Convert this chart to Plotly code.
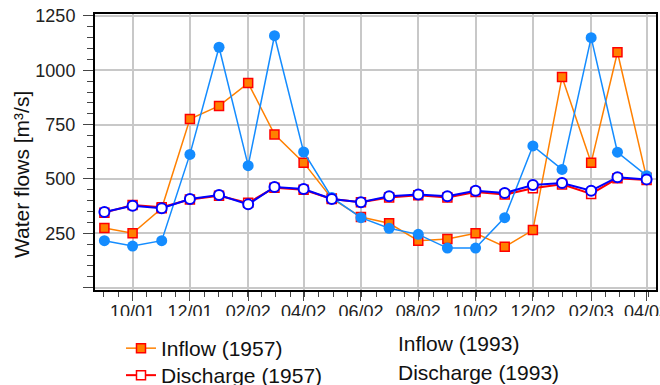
import plotly.graph_objects as go

# ---- data ----
months = ["2001-09-01", "2001-10-01", "2001-11-01", "2001-12-01", "2002-01-01",
          "2002-02-01", "2002-03-01", "2002-04-01", "2002-05-01", "2002-06-01",
          "2002-07-01", "2002-08-01", "2002-09-01", "2002-10-01", "2002-11-01",
          "2002-12-01", "2003-01-01", "2003-02-01", "2003-03-01", "2003-04-01"]
inflow_1957 = [274, 250, 365, 776, 836, 941, 705, 575, 410, 325,
               296, 216, 224, 250, 188, 265, 969, 575, 1083, 505]
discharge_1957 = [345, 380, 370, 405, 423, 390, 460, 450, 408, 393,
                  415, 425, 415, 440, 428, 457, 475, 431, 503, 495]
inflow_1993 = [216, 191, 216, 613, 1106, 561, 1159, 624, 415, 322,
               273, 245, 182, 182, 322, 652, 544, 1150, 623, 515]
discharge_1993 = [348, 377, 365, 408, 426, 383, 463, 454, 408, 393,
                  420, 428, 420, 446, 435, 472, 481, 446, 508, 498]
y_ticks = [0, 250, 500, 750, 1000, 1250]
y_tick_text = ["", "250", "500", "750", "1000", "1250"]
y_title = "Water flows [m³/s]"

FONT = "Liberation Sans, Arial, sans-serif"
ORANGE = "#FF8000"
RED = "#FF0000"
LBLUE = "#148CFF"
BLUE = "#0000FF"

fig = go.Figure()
fig.add_trace(go.Scatter(
    x=months, y=inflow_1957, name="Inflow (1957)", mode="lines+markers",
    line=dict(color=ORANGE, width=1.5),
    marker=dict(symbol="square", size=9, color=ORANGE, line=dict(color=RED, width=1.5)),
    legend="legend"))
fig.add_trace(go.Scatter(
    x=months, y=discharge_1957, name="Discharge (1957)", mode="lines+markers",
    line=dict(color=RED, width=2),
    marker=dict(symbol="square", size=9, color="white", line=dict(color=RED, width=1.5)),
    legend="legend3"))
fig.add_trace(go.Scatter(
    x=months, y=inflow_1993, name="Inflow (1993)", mode="lines+markers",
    line=dict(color=LBLUE, width=1.5),
    marker=dict(symbol="circle", size=11, color=LBLUE, line=dict(color=LBLUE, width=0)),
    showlegend=False))
fig.add_trace(go.Scatter(
    x=months, y=discharge_1993, name="Discharge (1993)", mode="lines+markers",
    line=dict(color=BLUE, width=2),
    marker=dict(symbol="circle", size=10, color="white", line=dict(color=BLUE, width=2)),
    showlegend=False))
# legend entries for 1993 series (reference shows no symbol next to them)
for nm, lg in [("Inflow (1993)", "legend2"), ("Discharge (1993)", "legend4")]:
    fig.add_trace(go.Scatter(
        x=[None], y=[None], name=nm, mode="markers",
        marker=dict(color="rgba(0,0,0,0)", size=1), legend=lg, hoverinfo="skip"))

W, H = 660, 385
L, R, T, B = 95, 4, 14, 95
pw, ph = W - L - R, H - T - B

def px_x(px):
    return (px - L) / pw

def px_y(py):
    return (H - B - py) / ph

leg_common = dict(font=dict(family=FONT, size=21, color="#111111"),
                  bgcolor="rgba(0,0,0,0)", borderwidth=0,
                  xanchor="left", yanchor="top", orientation="v")

fig.update_layout(
    width=W, height=H,
    margin=dict(l=L, r=R, t=T, b=B, pad=0, autoexpand=False),
    paper_bgcolor="white", plot_bgcolor="white",
    font=dict(family=FONT, size=18, color="#222222"),
    legend=dict(x=px_x(121), y=px_y(328), **leg_common),
    legend2=dict(x=px_x(358), y=px_y(323), **leg_common),
    legend3=dict(x=px_x(121), y=px_y(355), **leg_common),
    legend4=dict(x=px_x(358), y=px_y(352), **leg_common),
    xaxis=dict(
        type="date", range=["2001-08-22", "2003-04-11"],
        tick0="2001-10-01", dtick="M2", tickformat="%m/%y",
        ticklabeloverflow="allow", ticklabelstandoff=-5,
        showgrid=True, gridcolor="#C8C8C8", gridwidth=2,
        showline=True, linecolor="black", linewidth=2, mirror=True,
        ticks="outside", ticklen=9, tickwidth=1, tickcolor="#444444",
        tickfont=dict(family=FONT, size=18, color="#222222"),
        minor=dict(ticks="outside", ticklen=5, tickcolor="#444444",
                   tick0="2001-10-01", dtick=15.25 * 86400000, showgrid=False),
        zeroline=False, automargin=False,
    ),
    yaxis=dict(
        range=[-11, 1259],
        tickmode="array", tickvals=y_ticks, ticktext=y_tick_text,
        showgrid=True, gridcolor="#C8C8C8", gridwidth=2,
        showline=True, linecolor="black", linewidth=2, mirror=True,
        ticks="outside", ticklen=10, tickwidth=1, tickcolor="#444444",
        ticklabelstandoff=4,
        tickfont=dict(family=FONT, size=18, color="#222222"),
        minor=dict(ticks="outside", ticklen=6, tickcolor="#444444",
                   tickmode="linear", tick0=0, dtick=50, showgrid=False),
        zeroline=False, automargin=False,
    ),
    annotations=[dict(text=y_title, xref="paper", yref="paper",
                      x=px_x(22), y=px_y(175), xanchor="center", yanchor="middle",
                      textangle=-90, showarrow=False,
                      font=dict(family=FONT, size=21, color="#111111"))],
    showlegend=True,
    shapes=[dict(type="rect", xref="paper", yref="paper", layer="above",
                 x0=-0.3, x1=1.1, y0=px_y(316), y1=px_y(H + 5),
                 fillcolor="white", line=dict(width=0))],
)

fig.write_html("out.html")
